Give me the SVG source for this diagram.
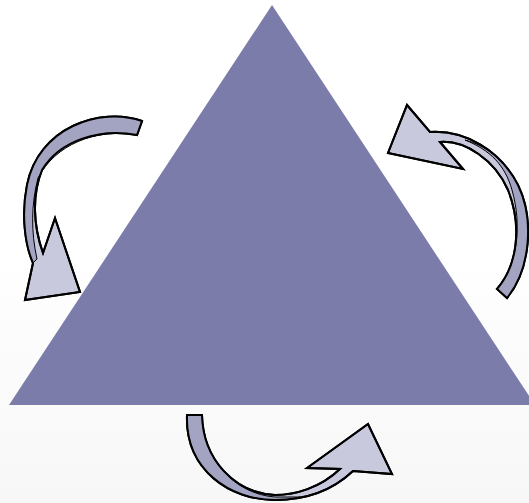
<svg xmlns="http://www.w3.org/2000/svg" width="529" height="503" viewBox="0 0 529 503">
<defs>
<linearGradient id="bg" x1="0" y1="0" x2="0" y2="1">
<stop offset="0" stop-color="#ffffff"/>
<stop offset="0.5" stop-color="#ffffff"/>
<stop offset="1" stop-color="#f7f7f7"/>
</linearGradient>
</defs>
<style>
.tri{fill:#7b7ca9}
.body{fill:#c8c9dd;stroke:#000;stroke-width:2;stroke-linejoin:miter}
.back{fill:#a3a4c1;stroke:#000;stroke-width:1}
.edge{fill:none;stroke:#000;stroke-width:2;stroke-linejoin:miter}
</style>
<rect width="529" height="503" fill="url(#bg)"/>
<g id="triangle">
<polygon class="tri" points="272,5 9,405 535,405"/>
</g>
<g id="connectors">
<g id="arrow-left">
<path class="body" d="M142,121 C100,106 38,128 27,185 C21,215 25,245 33,263 L25,300 L80,292 L55,218 L43,253 C33,225 32,195 42,170 C60,140 100,128 137,135 Z"/>
<path class="back" d="M142,121 C100,106 38,128 27,185 C21,215 25,245 33,263 L37,259 C31,232 31,205 38,178 C55,145 95,128 137,135 Z"/>
<path class="edge" d="M142,121 C100,106 38,128 27,185 C21,215 25,245 33,263 L25,300 L80,292 L55,218 L43,253 C33,225 32,195 42,170 C60,140 100,128 137,135 Z"/>
</g>
<g id="arrow-right">
<path class="body" d="M507,298 C530,270 535,220 518,185 C500,150 465,130 430,132 L407,105 L388,153 L463,169 L440,142 C465,140 495,160 508,190 C522,225 518,265 497,289 Z"/>
<path class="back" d="M507,298 C530,270 535,220 518,185 C505,160 485,145 465,140 C490,150 505,165 512,190 C522,225 518,265 497,289 Z"/>
<path class="edge" d="M507,298 C530,270 535,220 518,185 C500,150 465,130 430,132 L407,105 L388,153 L463,169 L440,142 C465,140 495,160 508,190 C522,225 518,265 497,289 Z"/>
</g>
<g id="arrow-bottom">
<path class="body" d="M187,415 C185,470 230,500 275,500 C310,500 335,488 353,471 L392,474 L368,424 L307,468 L340,469 C320,488 295,495 275,495 C235,493 203,460 202,415 Z"/>
<path class="back" d="M187,415 C185,470 230,500 275,500 C285,500 293,499 300,497 C290,497 283,497 275,497 C235,494 203,460 202,415 Z"/>
<path class="edge" d="M187,415 C185,470 230,500 275,500 C310,500 335,488 353,471 L392,474 L368,424 L307,468 L340,469 C320,488 295,495 275,495 C235,493 203,460 202,415 Z"/>
</g>
</g>
</svg>
